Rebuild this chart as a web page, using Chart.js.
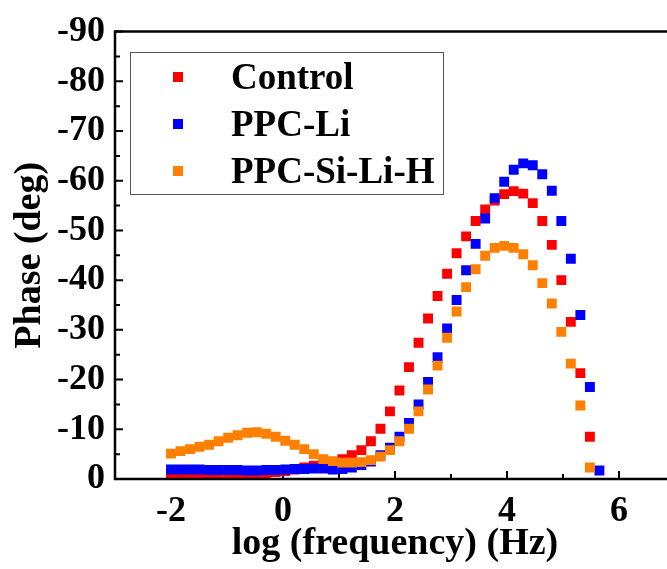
<!DOCTYPE html>
<html>
<head>
<meta charset="utf-8">
<script src="https://cdn.jsdelivr.net/npm/chart.js@4/dist/chart.umd.min.js"></script>
<style>
html, body { margin: 0; padding: 0; overflow: hidden; background: #fff; width: 667px; height: 569px; }
#wrap { position: relative; width: 700px; height: 569px; }
#c { position: absolute; left: 0; top: 0; }
#legend { position: absolute; left: 130px; top: 52px; width: 314px; height: 143px; border: 1px solid #555; box-sizing: border-box; }
.lg-mark { position: absolute; width: 10px; height: 10px; }
.lg-text { position: absolute; font: bold 37px "Liberation Serif", "Times New Roman", serif; line-height: 37px; color: #000; white-space: nowrap; }
</style>
</head>
<body>
<div id="wrap">
<canvas id="c" width="700" height="569"></canvas>
<div id="legend"></div>
</div>
<script>
// log10(frequency / Hz)
const logFreq = [-2.00, -1.83, -1.66, -1.49, -1.32, -1.15, -0.98, -0.81, -0.64, -0.47,
                 -0.30, -0.13, 0.04, 0.21, 0.38, 0.55, 0.72, 0.89, 1.06, 1.23,
                 1.40, 1.57, 1.74, 1.91, 2.08, 2.25, 2.42, 2.59, 2.76, 2.93,
                 3.10, 3.27, 3.44, 3.61, 3.78, 3.95, 4.12, 4.29, 4.46, 4.63,
                 4.80, 4.97, 5.14, 5.31, 5.48, 5.65];

// Phase (deg)
const controlPhase = [-1.0, -1.0, -1.0, -1.0, -1.0, -1.0, -1.0, -1.0, -1.1, -1.1,
                      -1.2, -1.4, -1.6, -1.9, -2.3, -2.7, -3.1, -3.4, -4.0, -4.8,
                      -5.8, -7.6, -10.1, -13.6, -17.8, -22.5, -27.4, -32.3, -36.8, -41.3,
                      -45.4, -48.8, -51.9, -54.2, -56.0, -57.3, -57.9, -57.4, -55.5, -51.9,
                      -47.1, -40.0, -31.6, -21.3, -8.5];

const ppcLiPhase = [-1.9, -1.9, -1.9, -1.9, -1.8, -1.8, -1.8, -1.8, -1.7, -1.7,
                    -1.8, -1.8, -1.9, -2.0, -2.0, -2.1, -2.1, -1.9, -2.0, -2.3,
                    -2.8, -3.5, -4.8, -6.3, -8.5, -11.3, -15.0, -19.5, -24.5, -30.3,
                    -36.0, -42.0, -47.3, -52.4, -56.5, -59.8, -62.2, -63.5, -63.1, -61.3,
                    -58.0, -51.9, -44.3, -33.0, -18.5, -1.7];

const ppcSiLiHPhase = [-5.1, -5.6, -6.0, -6.5, -6.9, -7.6, -8.3, -8.8, -9.3, -9.4,
                       -9.1, -8.5, -7.7, -6.9, -6.0, -5.0, -4.0, -3.6, -3.3, -3.3,
                       -3.4, -3.8, -4.5, -5.8, -7.6, -10.1, -13.6, -18.0, -22.8, -28.4,
                       -33.7, -38.6, -42.2, -44.9, -46.5, -46.9, -46.5, -45.2, -43.0, -39.4,
                       -35.3, -29.6, -23.2, -14.8, -2.3];

const seriesNames = ["Control", "PPC-Li", "PPC-Si-Li-H"];
const seriesColors = ["#FF0000", "#0000FF", "#FF8000"];

const xTickValues = [-2, 0, 2, 4, 6];
const xMinorTicks = [-1, 1, 3, 5];
const yMinorTicks = [-85, -75, -65, -55, -45, -35, -25, -15, -5];

const toPoints = arr => arr.map((v, i) => ({ x: logFreq[i], y: v }));

const tickFont = { family: "'Liberation Serif', 'Times New Roman', serif", size: 36, weight: 'bold' };
const titleFont = { family: "'Liberation Serif', 'Times New Roman', serif", size: 38, weight: 'bold' };

const framePlugin = {
  id: 'frame',
  beforeDatasetsDraw(chart) {
    const { ctx, chartArea: a, scales: { x, y } } = chart;
    ctx.save();
    ctx.strokeStyle = '#000';
    ctx.lineWidth = 2;
    ctx.beginPath();
    xTickValues.forEach(v => { const px = x.getPixelForValue(v); ctx.moveTo(px, a.bottom); ctx.lineTo(px, a.bottom - 8); });
    xMinorTicks.forEach(v => { const px = x.getPixelForValue(v); ctx.moveTo(px, a.bottom); ctx.lineTo(px, a.bottom - 5); });
    y.ticks.forEach(t => { const py = y.getPixelForValue(t.value); ctx.moveTo(a.left, py); ctx.lineTo(a.left + 8, py); });
    yMinorTicks.forEach(v => { const py = y.getPixelForValue(v); ctx.moveTo(a.left, py); ctx.lineTo(a.left + 5, py); });
    ctx.stroke();
    ctx.restore();
  },
  afterDatasetsDraw(chart) {
    const { ctx, chartArea: a } = chart;
    ctx.save();
    ctx.strokeStyle = '#000';
    ctx.lineWidth = 2.5;
    ctx.beginPath();
    ctx.moveTo(a.left, a.top); ctx.lineTo(a.right, a.top);
    ctx.lineTo(a.right, a.bottom); ctx.lineTo(a.left, a.bottom);
    ctx.closePath();
    ctx.stroke();
    ctx.restore();
  }
};

const datasets = [controlPhase, ppcLiPhase, ppcSiLiHPhase].map((arr, i) => ({
  label: seriesNames[i],
  data: toPoints(arr),
  backgroundColor: seriesColors[i],
  borderColor: seriesColors[i],
  borderWidth: 0,
  pointStyle: 'rect',
  pointRadius: 7,
  pointHoverRadius: 7,
  showLine: false,
  order: 3 - i
}));

const chart = new Chart(document.getElementById('c'), {
  type: 'scatter',
  data: { datasets },
  options: {
    responsive: false,
    animation: false,
    devicePixelRatio: 1,
    layout: { padding: { top: 30, right: 25, left: 0, bottom: 0 } },
    plugins: { legend: { display: false }, tooltip: { enabled: false } },
    scales: {
      x: {
        type: 'linear', min: -3, max: 7,
        grid: { display: false, drawTicks: false },
        border: { display: false },
        afterBuildTicks: s => { s.ticks = xTickValues.map(v => ({ value: v })); },
        afterFit: s => { s.height = 90; },
        ticks: { font: tickFont, color: '#000', padding: 11, maxRotation: 0 },
        title: { display: true, text: 'log (frequency) (Hz)', font: titleFont, color: '#000', padding: { top: 0, bottom: 2 } }
      },
      y: {
        type: 'linear', min: -90, max: 0, reverse: true,
        grid: { display: false, drawTicks: false },
        border: { display: false },
        afterFit: s => { s.width = 115; },
        ticks: { stepSize: 10, font: tickFont, color: '#000', padding: 10 },
        title: { display: true, text: 'Phase (deg)', font: titleFont, color: '#000', padding: { top: 7, bottom: 0 } }
      }
    }
  },
  plugins: [framePlugin]
});

// legend built from the chart's datasets
const legendEl = document.getElementById('legend');
const rowCenters = [25, 72, 119];
chart.data.datasets.forEach((ds, i) => {
  const m = document.createElement('div');
  m.className = 'lg-mark';
  m.style.background = ds.backgroundColor;
  m.style.left = (48 - 5 - 1) + 'px';
  m.style.top = (rowCenters[i] - 5 - 1) + 'px';
  legendEl.appendChild(m);
  const t = document.createElement('div');
  t.className = 'lg-text';
  t.textContent = ds.label;
  t.style.left = (101 - 1) + 'px';
  t.style.top = (rowCenters[i] - 19 - 1) + 'px';
  legendEl.appendChild(t);
});
</script>
</body>
</html>
